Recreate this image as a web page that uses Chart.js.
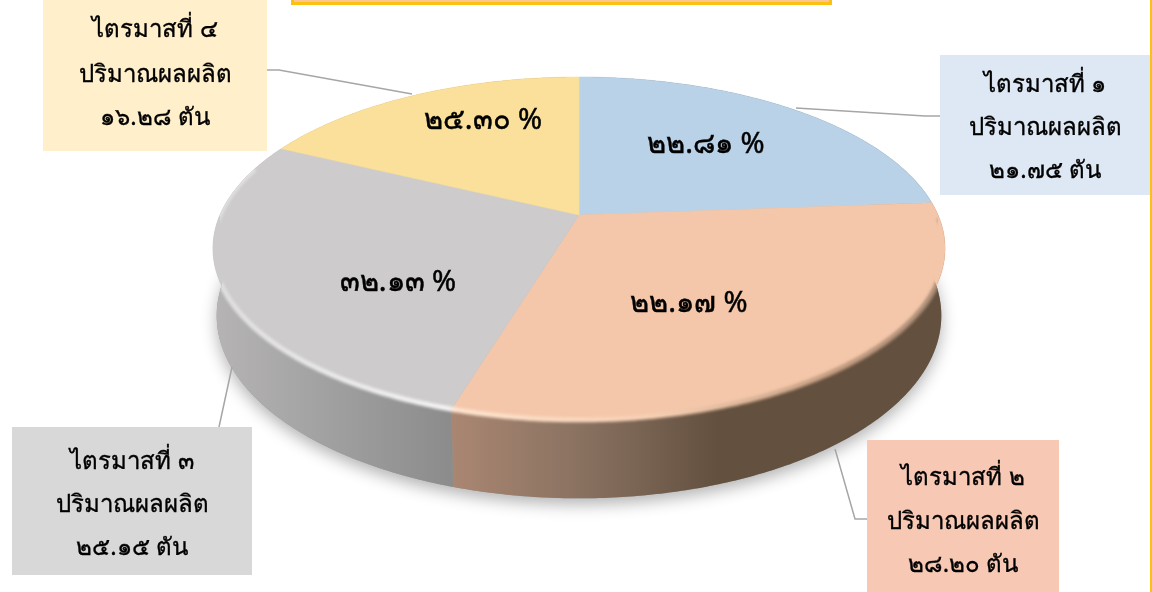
<!DOCTYPE html>
<html>
<head>
<meta charset="utf-8">
<style>
  html, body { margin: 0; padding: 0; background: #fff; }
  #wrap { position: relative; width: 1152px; height: 592px; overflow: hidden; }
</style>
<script src="https://cdn.jsdelivr.net/npm/chart.js@4"></script>
</head>
<body>
<div id="wrap"><canvas id="pie" width="1152" height="592"></canvas></div>
<script>
// tonnes per quarter, slices are sized from these
const quarters = ["ไตรมาสที่ ๑", "ไตรมาสที่ ๒", "ไตรมาสที่ ๓", "ไตรมาสที่ ๔"];
const tonnes = [21.75, 28.20, 25.15, 16.28];
const tonneLabels = ["๒๑.๗๕ ตัน", "๒๘.๒๐ ตัน", "๒๕.๑๕ ตัน", "๑๖.๒๘ ตัน"];
const percentLabels = ["๒๒.๘๑ %", "๒๒.๑๗ %", "๓๒.๑๓ %", "๒๕.๓๐ %"];
const subtitle = "ปริมาณผลผลิต";

const faceColors = ["#b9d2e8", "#f4c7aa", "#cdcbcc", "#fae09a"];
const FONT = '"Noto Sans", "DejaVu Sans", sans-serif';

const percentPos = [[706, 145], [689, 304], [398, 283], [483, 121]];
const boxes = [
  { x: 940, y: 55, w: 210, h: 140, fill: "#deE8f4", lines: [85, 128, 171] },
  { x: 867, y: 440, w: 192, h: 152, fill: "#f7c8b3", lines: [478, 522, 565] },
  { x: 12, y: 427, w: 240, h: 148, fill: "#d8d8d8", lines: [462, 505, 548] },
  { x: 43, y: 0, w: 224, h: 151, fill: "#fff0cb", lines: [30, 75, 118] },
];
const leaders = [
  [[796, 108], [925, 116], [940, 116]],
  [[835, 449], [855, 519], [867, 519]],
  [[232, 367], [219, 427]],
  [[412, 94], [279, 70], [267, 70]],
];

// perspective of the tilted disc
const TILT = 0.195, STRETCH_X = 1.67, STRETCH_Y = 0.767, DEPTH = 66, SHRINK = 0.01;

function project(el, a, lower) {
  const u = Math.cos(a), v = Math.sin(a);
  const w = 1 - TILT * v + (lower ? SHRINK : 0);
  const r = el.outerRadius;
  return {
    x: el.x + (r * STRETCH_X * u) / w,
    y: el.y + (r * STRETCH_Y * v + (lower ? DEPTH : 0)) / w,
  };
}

function arcPoints(el, a0, a1, lower) {
  const pts = [];
  const n = Math.max(2, Math.ceil(Math.abs(a1 - a0) / 0.01));
  for (let i = 0; i <= n; i++) pts.push(project(el, a0 + ((a1 - a0) * i) / n, lower));
  return pts;
}

function trace(ctx, pts) {
  pts.forEach((p, i) => (i ? ctx.lineTo(p.x, p.y) : ctx.moveTo(p.x, p.y)));
}

function wallGradient(ctx, index) {
  const g = ctx.createLinearGradient(213, 0, 945, 0);
  if (index === 2) {
    g.addColorStop(0, "#b6b4b5");
    g.addColorStop(0.33, "#8b8b8b");
  } else {
    g.addColorStop(0.33, "#a98672");
    g.addColorStop(0.5, "#8a7261");
    g.addColorStop(0.69, "#63503f");
    g.addColorStop(1, "#63503f");
  }
  return g;
}

const tiltedPie = {
  id: "tiltedPie",
  beforeDatasetsDraw(chart) {
    const ctx = chart.ctx;
    const arcs = chart.getDatasetMeta(0).data;
    const first = arcs[0];

    // soft shadow below the disc
    ctx.save();
    ctx.shadowColor = "rgba(0,0,0,0.3)";
    ctx.shadowBlur = 16;
    ctx.shadowOffsetY = 6;
    ctx.fillStyle = "#999";
    ctx.beginPath();
    trace(ctx, arcPoints(first, 0, Math.PI * 2, true));
    ctx.closePath();
    ctx.fill();
    ctx.restore();

    // side walls
    arcs.forEach((el, i) => {
      const top = arcPoints(el, el.startAngle, el.endAngle, false);
      const low = arcPoints(el, el.startAngle, el.endAngle, true).reverse();
      ctx.fillStyle = wallGradient(ctx, i);
      ctx.beginPath();
      trace(ctx, top.concat(low));
      ctx.closePath();
      ctx.fill();
    });

    // top faces, stroked in their own colour to close the seams
    arcs.forEach((el, i) => {
      ctx.fillStyle = faceColors[i];
      ctx.strokeStyle = faceColors[i];
      ctx.lineWidth = 0.6;
      ctx.beginPath();
      trace(ctx, [{ x: el.x, y: el.y }].concat(arcPoints(el, el.startAngle, el.endAngle, false)));
      ctx.closePath();
      ctx.fill();
      ctx.stroke();
    });

    // rim highlight where the face turns into the wall, kept inside the outline
    const rim = ctx.createLinearGradient(213, 0, 945, 0);
    rim.addColorStop(0, "#dfdede");
    rim.addColorStop(0.32, "#f4f3f3");
    rim.addColorStop(0.335, "#fde3cd");
    rim.addColorStop(0.6, "#f6cfb3");
    rim.addColorStop(0.85, "#c09a7e");
    rim.addColorStop(1, "#a68a74");
    ctx.save();
    ctx.beginPath();
    trace(ctx, arcPoints(first, Math.PI, Math.PI * 2, false).concat(arcPoints(first, 0, Math.PI, true)));
    ctx.closePath();
    ctx.clip();
    ctx.filter = "blur(1.5px)";
    ctx.strokeStyle = rim;
    ctx.lineWidth = 5;
    ctx.beginPath();
    trace(ctx, arcPoints(first, 0.02, Math.PI + 0.3, false));
    ctx.stroke();
    ctx.restore();
    return false;
  },
  afterDraw(chart) {
    const ctx = chart.ctx;
    ctx.save();

    // leader lines
    ctx.strokeStyle = "#a6a6a6";
    ctx.lineWidth = 1.5;
    leaders.forEach((pts) => {
      ctx.beginPath();
      pts.forEach((p, i) => (i ? ctx.lineTo(p[0], p[1]) : ctx.moveTo(p[0], p[1])));
      ctx.stroke();
    });

    ctx.textAlign = "center";
    ctx.textBaseline = "middle";
    ctx.fillStyle = "#000";
    ctx.strokeStyle = "#000";

    // percent labels on the face
    ctx.font = "29px " + FONT;
    ctx.lineWidth = 0.5;
    percentLabels.forEach((t, i) => {
      ctx.fillText(t, percentPos[i][0], percentPos[i][1]);
      ctx.strokeText(t, percentPos[i][0], percentPos[i][1]);
    });

    // callouts
    ctx.font = "24px " + FONT;
    ctx.lineWidth = 0.35;
    boxes.forEach((b, i) => {
      ctx.fillStyle = b.fill;
      ctx.fillRect(b.x, b.y, b.w, b.h);
      ctx.fillStyle = "#000";
      const cx = b.x + b.w / 2;
      [quarters[i], subtitle, tonneLabels[i]].forEach((t, j) => {
        ctx.fillText(t, cx, b.lines[j]);
        ctx.strokeText(t, cx, b.lines[j]);
      });
    });

    // cut-off title box at the top and page edge
    ctx.fillStyle = "#fbc68f";
    ctx.fillRect(291, 0, 540, 3);
    ctx.strokeStyle = "#fcc010";
    ctx.lineWidth = 3;
    ctx.strokeRect(292.5, -4, 538, 7.5);
    ctx.fillStyle = "#fcc010";
    ctx.fillRect(1150, 0, 2, 592);
    ctx.restore();
  },
};

new Chart(document.getElementById("pie"), {
  type: "pie",
  data: {
    labels: quarters,
    datasets: [{ data: tonnes, backgroundColor: faceColors, borderWidth: 0 }],
  },
  options: {
    responsive: false,
    animation: false,
    layout: { padding: { left: 6, bottom: 162 } },
    plugins: { legend: { display: false }, tooltip: { enabled: false } },
  },
  plugins: [tiltedPie],
});
</script>
</body>
</html>
